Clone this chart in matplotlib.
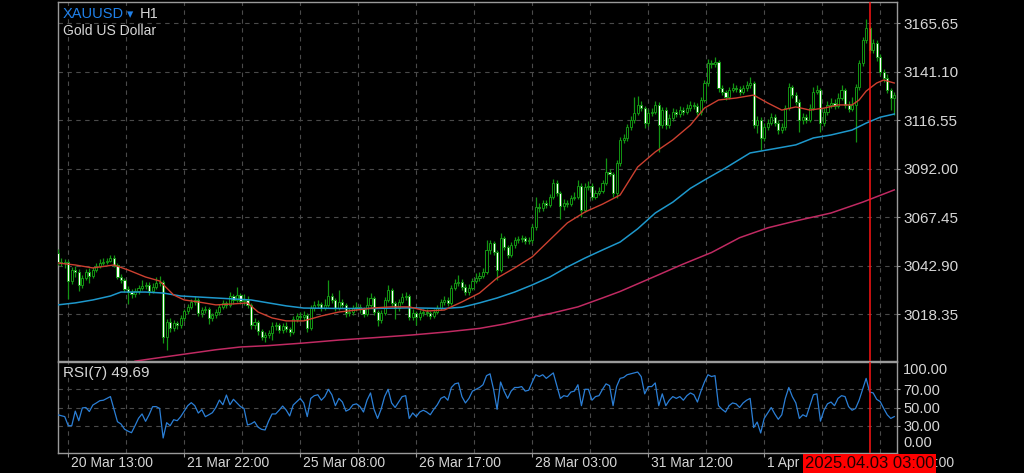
import matplotlib.pyplot as plt
from matplotlib import transforms

plt.rcParams['font.family'] = ['Liberation Sans', 'DejaVu Sans']

# XAUUSD H1 candles, bar 0 = first visible candle (20 Mar)
first_open = 3049.3
closes = [
    3044.7, 3044.2, 3044.7, 3035.1, 3040.7, 3039.7, 3033.1, 3036.6, 3039.7, 3037.6,
    3040.7, 3042.7, 3044.2, 3044.7, 3045.2, 3046.8, 3043.2, 3037.1, 3035.6, 3031.0,
    3029.5, 3028.5, 3030.0, 3031.6, 3032.6, 3033.1, 3030.0, 3032.0, 3034.1, 3034.6,
    3006.8, 3014.5, 3011.3, 3013.9, 3012.9, 3016.4, 3019.9, 3022.0, 3024.5, 3025.5,
    3018.9, 3020.4, 3020.9, 3016.4, 3017.9, 3019.4, 3022.0, 3024.0, 3023.0, 3027.5,
    3025.5, 3028.0, 3025.0, 3025.5, 3023.0, 3012.9, 3014.4, 3009.8, 3006.8, 3007.8,
    3008.8, 3012.3, 3012.8, 3010.3, 3012.3, 3010.8, 3009.3, 3015.9, 3017.4, 3016.9,
    3017.9, 3011.3, 3021.5, 3023.0, 3023.5, 3021.5, 3023.0, 3027.5, 3025.5, 3021.5,
    3024.5, 3023.0, 3018.9, 3019.4, 3021.5, 3022.0, 3020.9, 3018.4, 3023.0, 3026.5,
    3019.4, 3015.4, 3018.9, 3025.5, 3030.6, 3024.0, 3021.5, 3024.5, 3027.0, 3027.5,
    3016.9, 3018.9, 3016.9, 3018.9, 3019.4, 3018.9, 3017.4, 3019.4, 3021.5, 3024.5,
    3025.5, 3024.0, 3031.6, 3034.1, 3034.6, 3032.0, 3029.5, 3031.5, 3035.1, 3036.6,
    3037.6, 3039.7, 3050.8, 3054.3, 3049.8, 3040.7, 3056.9, 3052.3, 3048.3, 3053.3,
    3055.9, 3056.4, 3056.9, 3055.4, 3055.9, 3062.4, 3072.6, 3072.1, 3074.6, 3073.6,
    3077.6, 3084.7, 3079.6, 3073.1, 3074.6, 3074.1, 3077.1, 3077.6, 3083.2, 3071.0,
    3082.7, 3083.2, 3077.6, 3079.6, 3080.6, 3084.7, 3090.3, 3089.3, 3079.6, 3094.8,
    3106.5, 3107.5, 3113.0, 3116.6, 3120.1, 3124.2, 3122.6, 3115.1, 3120.1, 3120.6,
    3124.2, 3114.0, 3121.6, 3114.0, 3117.6, 3120.6, 3119.6, 3121.6, 3120.6, 3122.6,
    3124.2, 3123.7, 3120.6, 3126.7, 3135.3, 3145.4, 3144.9, 3145.9, 3132.8, 3130.7,
    3128.2, 3131.7, 3132.8, 3132.3, 3130.7, 3132.8, 3134.3, 3135.3, 3114.0, 3116.6,
    3107.5, 3113.0, 3115.1, 3118.1, 3115.1, 3111.5, 3113.0, 3122.6, 3133.3, 3129.2,
    3125.7, 3116.6, 3118.1, 3116.6, 3122.6, 3130.7, 3131.7, 3115.1, 3120.6, 3124.2,
    3125.2, 3123.7, 3127.7, 3131.7, 3124.2, 3122.1, 3124.2, 3133.3, 3145.4, 3157.0,
    3163.0, 3152.0, 3155.6, 3148.5, 3141.0, 3137.8, 3131.7, 3127.7, 3129.2,
]
highs = [
    3051.5, 3046.5, 3046.0, 3045.5, 3042.0, 3042.5, 3041.0, 3038.0, 3041.0, 3041.5,
    3042.0, 3044.0, 3046.0, 3046.5, 3046.8, 3048.0, 3048.5, 3044.0, 3038.5, 3036.5,
    3032.5, 3031.0, 3031.5, 3033.0, 3035.5, 3034.5, 3034.5, 3034.0, 3037.0, 3037.5,
    3035.5, 3016.0, 3016.5, 3015.5, 3015.0, 3018.0, 3021.0, 3023.5, 3026.0, 3027.5,
    3026.5, 3022.0, 3022.5, 3022.0, 3019.0, 3021.0, 3023.5, 3025.5, 3025.0, 3029.5,
    3028.5, 3032.0, 3029.0, 3028.5, 3027.5, 3024.0, 3016.5, 3015.5, 3011.0, 3009.5,
    3010.5, 3014.5, 3014.5, 3014.0, 3014.0, 3014.5, 3012.0, 3017.5, 3019.0, 3019.5,
    3020.0, 3019.0, 3023.0, 3025.0, 3025.5, 3024.5, 3026.0, 3035.5, 3029.0, 3026.5,
    3030.5, 3026.0, 3024.0, 3021.5, 3023.0, 3024.5, 3023.5, 3022.0, 3027.0, 3029.0,
    3027.5, 3020.5, 3020.5, 3027.0, 3033.0, 3031.5, 3025.0, 3026.0, 3029.0, 3029.5,
    3028.5, 3021.0, 3020.0, 3020.5, 3021.0, 3021.0, 3020.0, 3021.0, 3023.0, 3026.0,
    3027.5, 3027.0, 3033.0, 3036.0, 3038.0, 3036.0, 3033.5, 3033.5, 3036.5, 3039.0,
    3039.5, 3041.5, 3055.9, 3056.0, 3055.5, 3051.0, 3059.4, 3058.0, 3053.5, 3055.0,
    3057.5, 3058.0, 3058.5, 3058.0, 3057.5, 3064.0, 3077.6, 3074.5, 3076.0, 3076.0,
    3079.0, 3086.5, 3086.0, 3080.5, 3076.5, 3076.0, 3078.5, 3080.0, 3086.0, 3084.5,
    3084.5, 3085.5, 3084.5, 3081.0, 3082.5, 3086.0, 3097.4, 3092.0, 3090.5, 3096.5,
    3108.0, 3109.5, 3114.5, 3118.5, 3128.0, 3128.5, 3126.0, 3123.5, 3122.0, 3122.5,
    3126.0, 3125.5, 3123.0, 3123.0, 3119.5, 3122.5, 3122.0, 3123.5, 3123.0, 3124.5,
    3126.0, 3125.5, 3125.0, 3128.0, 3137.0, 3147.5, 3147.0, 3148.5, 3147.0, 3134.5,
    3132.0, 3133.5, 3135.5, 3134.5, 3134.0, 3134.5, 3136.5, 3138.3, 3136.5, 3118.5,
    3118.0, 3115.0, 3117.0, 3120.0, 3119.5, 3116.5, 3115.0, 3124.0, 3135.3, 3134.5,
    3130.5, 3127.0, 3120.0, 3119.5, 3124.5, 3133.5, 3134.5, 3133.0, 3122.5, 3126.0,
    3127.5, 3127.0, 3130.0, 3134.3, 3133.0, 3126.0, 3128.0, 3135.0, 3147.0, 3158.5,
    3167.7, 3164.0, 3157.5, 3157.0, 3150.0, 3142.5, 3140.0, 3133.0, 3130.5,
]
lows = [
    3043.0, 3042.5, 3041.5, 3026.0, 3033.5, 3037.0, 3030.0, 3031.5, 3035.5, 3034.0,
    3036.5, 3039.5, 3041.5, 3043.0, 3043.5, 3044.5, 3042.0, 3036.0, 3034.0, 3029.5,
    3023.5, 3026.5, 3027.0, 3028.5, 3030.5, 3031.0, 3028.0, 3029.0, 3031.0, 3032.5,
    3003.5, 3000.0, 3009.5, 3010.0, 3011.0, 3011.5, 3015.0, 3018.5, 3021.0, 3023.0,
    3017.5, 3017.0, 3019.0, 3013.5, 3015.0, 3016.5, 3018.0, 3021.0, 3021.5, 3022.0,
    3023.5, 3024.5, 3023.5, 3023.0, 3021.5, 3011.0, 3011.0, 3008.0, 3005.0, 3004.0,
    3006.0, 3005.0, 3010.5, 3009.0, 3009.0, 3009.5, 3007.5, 3008.5, 3014.5, 3015.0,
    3015.5, 3009.5, 3010.5, 3020.0, 3021.5, 3020.0, 3020.5, 3022.0, 3024.0, 3020.0,
    3020.5, 3021.5, 3017.0, 3017.5, 3018.0, 3020.0, 3019.0, 3017.0, 3017.5, 3022.0,
    3018.0, 3012.5, 3014.0, 3018.0, 3024.5, 3022.5, 3016.0, 3020.0, 3023.5, 3025.5,
    3015.5, 3015.5, 3013.0, 3015.5, 3017.5, 3017.5, 3016.0, 3016.5, 3018.5, 3020.5,
    3023.0, 3022.5, 3023.0, 3030.5, 3032.5, 3030.5, 3028.0, 3028.0, 3030.5, 3034.0,
    3035.0, 3036.5, 3038.5, 3049.0, 3048.0, 3035.6, 3039.5, 3051.0, 3046.5, 3047.0,
    3052.0, 3054.5, 3055.0, 3054.0, 3054.0, 3054.5, 3061.0, 3070.0, 3070.5, 3072.0,
    3072.5, 3076.5, 3078.0, 3066.5, 3071.0, 3072.5, 3073.0, 3076.0, 3076.5, 3067.5,
    3070.0, 3081.0, 3076.0, 3076.5, 3078.5, 3079.5, 3083.5, 3088.0, 3077.5, 3077.0,
    3093.5, 3105.0, 3106.0, 3111.5, 3115.0, 3119.0, 3121.0, 3112.5, 3113.5, 3118.5,
    3119.5, 3100.4, 3112.5, 3112.0, 3112.5, 3116.0, 3118.0, 3118.0, 3119.0, 3119.5,
    3121.0, 3122.0, 3119.0, 3119.0, 3125.5, 3134.0, 3143.0, 3143.5, 3131.0, 3129.0,
    3126.5, 3127.0, 3130.5, 3130.5, 3129.0, 3129.5, 3131.5, 3133.0, 3112.5, 3110.0,
    3101.4, 3106.0, 3111.5, 3114.0, 3113.5, 3109.5, 3110.0, 3111.5, 3121.5, 3127.5,
    3124.0, 3110.5, 3114.5, 3115.0, 3115.5, 3121.5, 3129.5, 3110.5, 3113.5, 3119.0,
    3122.5, 3122.0, 3122.5, 3126.5, 3122.5, 3120.5, 3121.0, 3105.4, 3132.0, 3144.0,
    3155.5, 3150.5, 3150.5, 3146.5, 3139.5, 3136.0, 3130.0, 3121.6, 3119.0,
]

# moving averages, read at sample bars
fast_ma_bars = [0, 5, 10, 16, 20, 25, 29, 33, 36, 40, 45, 50, 54, 57, 61, 65, 70, 75, 80,
                85, 90, 95, 100, 105, 110, 115, 120, 125, 130, 135, 140, 145, 150, 155,
                160, 165, 170, 175, 180, 184, 188, 193, 198, 202, 206, 210, 214, 218,
                222, 226, 228, 230, 233, 235, 238]
fast_ma = [3044.2, 3043.2, 3041.7, 3043.2, 3040.7, 3037.1, 3035.1, 3028.0, 3025.5, 3024.5,
           3023.0, 3023.5, 3024.0, 3019.4, 3016.4, 3014.9, 3014.9, 3017.4, 3019.4, 3020.4,
           3021.5, 3022.0, 3022.0, 3019.9, 3020.4, 3024.5, 3029.0, 3036.6, 3041.7, 3047.3,
           3055.9, 3064.5, 3070.0, 3074.0, 3078.6, 3092.8, 3100.4, 3106.5, 3114.0, 3122.6,
           3126.7, 3127.7, 3129.2, 3125.2, 3121.6, 3123.2, 3121.6, 3122.6, 3124.2, 3124.2,
           3126.7, 3131.2, 3135.3, 3136.8, 3135.3]

mid_ma_bars = [0, 5, 10, 15, 18, 25, 30, 35, 40, 45, 50, 55, 60, 65, 70, 80, 90, 100, 110,
               115, 120, 125, 130, 135, 140, 145, 150, 155, 160, 165, 170, 175, 180, 184,
               190, 197, 205, 210, 215, 220, 226, 230, 234, 238]
mid_ma = [3023.0, 3024.0, 3025.5, 3027.5, 3029.5, 3029.5, 3029.0, 3027.5, 3027.0, 3026.5,
          3026.0, 3025.5, 3024.0, 3022.5, 3021.4, 3021.2, 3021.2, 3021.5, 3021.2, 3021.8,
          3024.0, 3026.5, 3029.5, 3033.1, 3037.1, 3042.2, 3046.7, 3050.8, 3054.8, 3061.5,
          3069.5, 3075.0, 3082.0, 3086.2, 3092.3, 3099.9, 3102.4, 3104.0, 3107.5, 3109.0,
          3111.5, 3115.0, 3118.0, 3119.6]

slow_ma_bars = [22, 25, 35, 45, 52, 60, 70, 80, 90, 101, 110, 120, 127, 134, 141, 148, 155,
                160, 170, 178, 186, 194, 202, 210, 220, 229, 238]
slow_ma = [2994.5, 2995.3, 2997.8, 3000.3, 3001.7, 3002.4, 3003.7, 3005.2, 3006.4, 3007.8,
           3009.2, 3011.1, 3013.3, 3016.2, 3019.0, 3022.0, 3026.5, 3029.8, 3037.5, 3043.7,
           3049.5, 3057.0, 3062.0, 3065.5, 3069.5, 3075.0, 3081.2]

# RSI(7), one value per bar
rsi = [
    42, 41, 40, 30, 30, 46, 35.5, 49.5, 50, 45.6,
    52.7, 55, 57.5, 58, 60, 62, 48, 34.4, 31.9, 26.2,
    24, 22.3, 30, 38.2, 42.9, 34.8, 42, 50.9, 51, 49,
    16.5, 33.3, 30, 36.6, 35.5, 40, 46, 52, 55.3, 52,
    43.9, 47.6, 39.9, 42, 44.3, 50, 58.2, 53, 63.7, 53,
    59, 55, 51, 49, 30.8, 32, 34.4, 28.4, 26, 25.3,
    35, 42.9, 42.9, 47, 51.6, 47.2, 40.7, 52.7, 56.4, 60,
    55, 40, 60, 63, 64, 58, 62, 70, 64, 52,
    60, 56, 46, 48, 53, 54, 51, 45, 58, 66,
    48, 38, 48, 62, 70, 55, 50, 56, 62, 63,
    38, 44, 40, 45, 47, 45, 42, 48, 53, 60,
    62, 58, 72, 76, 77, 62, 55, 60, 68, 70,
    72, 75, 85, 87, 70, 48, 78, 68, 60, 68,
    72, 72, 73, 68, 69, 78, 86, 84, 86, 82,
    85, 88, 74, 60, 63, 62, 67, 68, 75, 52,
    70, 70, 58, 62, 63, 70, 76, 74, 52, 73,
    82, 83, 86, 87, 88, 89, 84, 65, 73, 73,
    77, 52, 65, 52, 58, 62, 60, 62, 58, 63,
    66, 64, 56, 68, 78, 86, 84, 85, 52, 48,
    45, 52, 55, 54, 50, 55, 58, 60, 28, 34,
    22, 38, 44, 50, 43, 37, 42, 60, 72, 62,
    55, 38, 42, 40, 52, 64, 65, 35, 47, 54,
    56, 52, 60, 63, 62, 51, 47, 49, 58, 70,
    82, 67, 66, 59, 56.5, 49, 42, 38, 40,
]

price_ticks = [3018.35, 3042.90, 3067.45, 3092.00, 3116.55, 3141.10, 3165.65]
rsi_levels = [70, 50, 30]
time_tick_bars = [3, 36, 69, 102, 135, 168, 201, 234]
time_labels = ['20 Mar 13:00', '21 Mar 22:00', '25 Mar 08:00', '26 Mar 17:00',
               '28 Mar 03:00', '31 Mar 12:00', '1 Apr 22:00', '3 Apr 07:00']
cursor_bar = 231
cursor_label = '2025.04.03 03:00'

opens = [first_open] + closes[:-1]
n = len(closes)
bars = list(range(n))

green = '#139613'
frame = '#9a9a9a'
grid_c = '#4a4a4a'
txt = '#d6d6d6'

W, H = 1024, 473
fig = plt.figure(figsize=(W / 100, H / 100), dpi=100, facecolor='black')
ax = fig.add_axes([58 / W, 1 - 361 / H, 839 / W, 359 / H], facecolor='black')
ax_rsi = fig.add_axes([58 / W, 1 - 453 / H, 839 / W, 91 / H], facecolor='black', sharex=ax)

# candles
ax.vlines(bars, lows, highs, color=green, lw=0.9, zorder=3)
bottoms = [min(o, c) for o, c in zip(opens, closes)]
heights = [max(abs(c - o), 0.35) for o, c in zip(opens, closes)]
faces = ['white' if c < o else 'black' for o, c in zip(opens, closes)]
ax.bar(bars, heights, bottom=bottoms, width=0.6, color=faces, edgecolor=green,
       linewidth=0.7, zorder=4)

ax.plot(slow_ma_bars, slow_ma, color='#c02a62', lw=1.1, zorder=5)
ax.plot(mid_ma_bars, mid_ma, color='#1e98cc', lw=1.1, zorder=5)
ax.plot(fast_ma_bars, fast_ma, color='#cc4030', lw=1.0, zorder=5)

ax.set_xlim(0.085, 238.78)
ax.set_ylim(2994.6, 3176.3)

# rsi
ax_rsi.plot(bars, rsi, color='#2b7fd6', lw=0.9, zorder=4)
ax_rsi.set_ylim(0, 100)

for a in (ax, ax_rsi):
    a.yaxis.tick_right()
    for s in a.spines.values():
        s.set_color(frame)
        s.set_linewidth(1.0)
    for k in range(15):
        gx = time_tick_bars[0] + 16.5 * k
        a.axvline(gx, color=grid_c, lw=0.8, ls=(0, (4, 4)), zorder=1)
    a.axvline(cursor_bar, color='#ff1414', lw=1.1, zorder=6)

ax.set_yticks(price_ticks)
ax.set_yticklabels([f'{p:.2f}' for p in price_ticks])
ax.tick_params(axis='y', colors=frame, labelcolor=txt, labelsize=11, length=2.5, pad=2)
ax.tick_params(axis='x', bottom=False, labelbottom=False)
for p in price_ticks:
    ax.axhline(p, color=grid_c, lw=0.8, ls=(0, (4, 4)), zorder=1)

ax_rsi.set_yticks(rsi_levels)
ax_rsi.set_yticklabels([f'{v:.2f}' for v in rsi_levels])
ax_rsi.tick_params(axis='y', colors=frame, labelcolor=txt, labelsize=10.5, length=2.5, pad=2)
for v in rsi_levels:
    ax_rsi.axhline(v, color=grid_c, lw=0.8, ls=(0, (4, 4)), zorder=1)
ax_rsi.text(1.0, 0.912, '100.00', transform=transforms.offset_copy(
    ax_rsi.transAxes, fig=fig, x=6, y=0, units='dots'), color=txt, fontsize=10.5, va='center')
ax_rsi.text(1.0, 0.11, '0.00', transform=transforms.offset_copy(
    ax_rsi.transAxes, fig=fig, x=6, y=0, units='dots'), color=txt, fontsize=10.5, va='center')

ax_rsi.set_xticks(time_tick_bars)
ax_rsi.set_xticklabels([])
ax_rsi.tick_params(axis='x', colors=frame, length=3, direction='out')
lab_tr = transforms.offset_copy(
    transforms.blended_transform_factory(ax_rsi.transData, ax_rsi.transAxes),
    fig=fig, x=3, y=0, units='dots')
for b, lab in zip(time_tick_bars, time_labels):
    ax_rsi.text(b, -0.115, lab, transform=lab_tr, color=txt, fontsize=10,
                ha='left', va='center', clip_on=False)

cur_tr = transforms.blended_transform_factory(ax_rsi.transData, ax_rsi.transAxes)
ax_rsi.text(cursor_bar, -0.115, cursor_label, transform=cur_tr, color='#200000',
            fontsize=12, ha='center', va='center', zorder=10, clip_on=False,
            bbox=dict(boxstyle='square,pad=0.12', facecolor='#ff0000', edgecolor='none'))

ax_rsi.text(0.006, 0.88, 'RSI(7) 49.69', transform=ax_rsi.transAxes, color=txt,
            fontsize=11, va='center', ha='left')

# symbol header
fig.text(63 / W, 1 - 14 / H, 'XAUUSD', color='#1f80ea', fontsize=10.5, va='center')
fig.text(127 / W, 1 - 15 / H, '\u25be', color='#1f80ea', fontsize=9, va='center',
         family='DejaVu Sans')
fig.text(140 / W, 1 - 14 / H, 'H1', color=txt, fontsize=10.5, va='center')
fig.text(63 / W, 1 - 31 / H, 'Gold US Dollar', color=txt, fontsize=10, va='center')

fig.savefig('out.png', dpi=100, facecolor='black')
